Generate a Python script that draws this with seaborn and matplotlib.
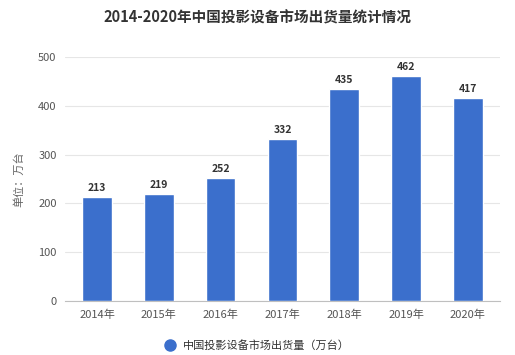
import matplotlib
matplotlib.use("Agg")
import matplotlib.pyplot as plt
import seaborn as sns
import pandas as pd

years = ["2014年", "2015年", "2016年", "2017年", "2018年", "2019年", "2020年"]
values = [213, 219, 252, 332, 435, 462, 417]
series_name = "中国投影设备市场出货量（万台）"
title = "2014-2020年中国投影设备市场出货量统计情况"
ylabel = "单位：万台"

sns.set_theme(style="white")
plt.rcParams['font.family'] = ['Noto Sans CJK SC', 'DejaVu Sans']

df = pd.DataFrame({"year": years, "value": values})
color = "#3b6fcc"

fig = plt.figure(figsize=(5.15, 3.55), dpi=100)
ax = fig.add_axes([0.126, 0.152, 0.845, 0.687])
sns.barplot(data=df, x="year", y="value", color=color, width=0.48, ax=ax,
            saturation=1, zorder=3)
ax.set_xlim(-0.52, 6.52)
ax.set_ylim(0, 500)
ax.set_yticks([0, 100, 200, 300, 400, 500])
ax.yaxis.grid(True, color="#e6e6e6", linewidth=0.8, zorder=0)
for s in ["top", "right", "left"]:
    ax.spines[s].set_visible(False)
ax.spines["bottom"].set_color("#bfbfbf")
ax.spines["bottom"].set_linewidth(0.8)
ax.tick_params(axis="both", labelsize=8, colors="#555555", length=0, pad=6)
ax.set_xlabel("")
ax.set_ylabel(ylabel, fontsize=8, color="#666666", labelpad=10)
for i, v in enumerate(values):
    ax.text(i, v + 8, str(v), ha="center", va="bottom", fontsize=7.5,
            fontweight="bold", color="#333333")

fig.text(0.5, 0.95, title, ha="center", va="center", fontsize=10.5,
         fontweight="bold", color="#333333")
fig.lines.append(plt.Line2D([0.331], [0.028], marker="o", markersize=8,
                            color=color, transform=fig.transFigure))
fig.text(0.355, 0.028, series_name, ha="left", va="center", fontsize=8,
         color="#333333")

fig.savefig("out.png", dpi=100)
